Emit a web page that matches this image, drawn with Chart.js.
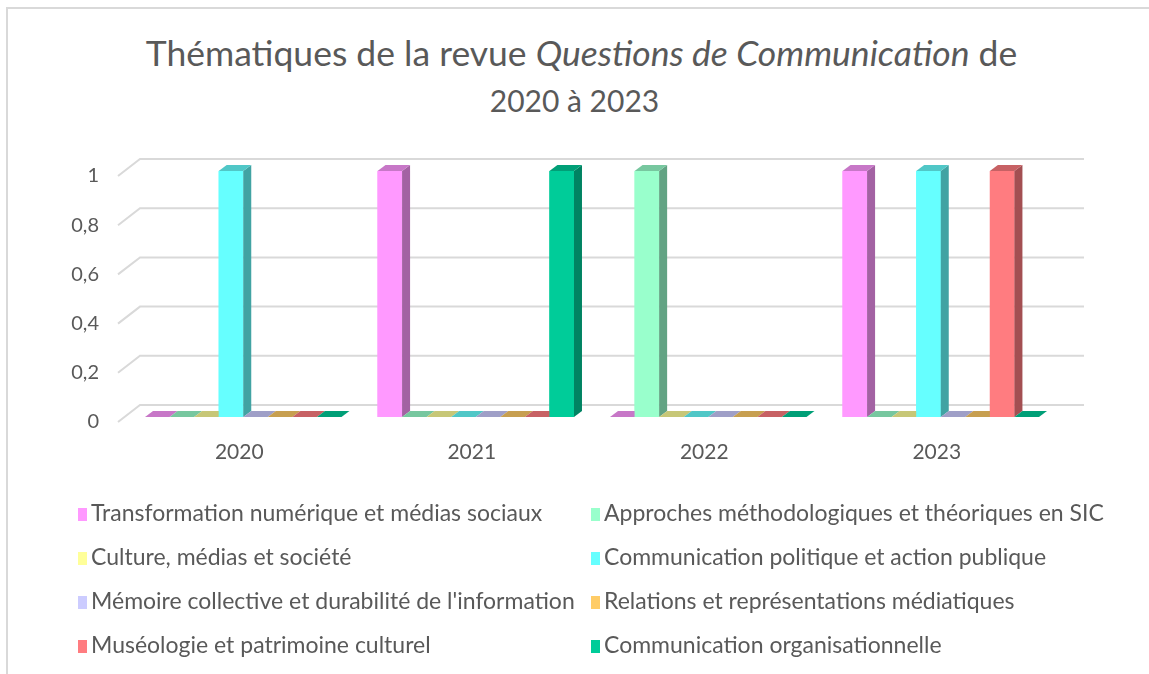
<!DOCTYPE html>
<html>
<head>
<meta charset="utf-8">
<script src="https://cdn.jsdelivr.net/npm/chart.js@4"></script>
<style>
body { margin: 0; background: #fff; font-family: Lato, sans-serif; color: #595959; }
#wrap { position: relative; width: 1149px; height: 674px; overflow: hidden; }
#frame { position: absolute; left: 6px; top: 7px; width: 1200px; height: 700px; border-left: 2px solid #d9d9d9; border-top: 2px solid #d9d9d9; }
.tline { position: absolute; left: 0; width: 1149px; text-align: center; line-height: 40px; white-space: nowrap; }
#t1 { top: 33px; left: 7px; font-size: 35.5px; }
#t2 { top: 80px; font-size: 30px; }
canvas { position: absolute; left: 0; top: 0; }
.item { position: absolute; font-size: 23px; line-height: 26px; white-space: nowrap; }
.box { display: inline-block; width: 9px; height: 13px; margin-right: 4px; vertical-align: 0px; }
</style>
</head>
<body>
<div id="wrap">
  <div id="frame"></div>
  <div class="tline" id="t1">Thématiques de la revue <i>Questions de Communication</i> de</div>
  <div class="tline" id="t2">2020 à 2023</div>
  <canvas id="chart" width="1149" height="674"></canvas>
  <div id="legend"></div>
</div>
<script>
var categories = ["2020", "2021", "2022", "2023"];
var seriesNames = [
    "Transformation numérique et médias sociaux",
    "Approches méthodologiques et théoriques en SIC",
    "Culture, médias et société",
    "Communication politique et action publique",
    "Mémoire collective et durabilité de l'information",
    "Relations et représentations médiatiques",
    "Muséologie et patrimoine culturel",
    "Communication organisationnelle"
];
var transformation = [0, 1, 0, 1];
var approches = [0, 0, 1, 0];
var culture = [0, 0, 0, 0];
var politique = [1, 0, 0, 1];
var memoire = [0, 0, 0, 0];
var relations = [0, 0, 0, 0];
var museologie = [0, 0, 0, 1];
var organisationnelle = [0, 1, 0, 0];
var seriesValues = [transformation, approches, culture, politique, memoire, relations, museologie, organisationnelle];
var seriesColors = ["#FF99FF", "#99FFCC", "#FFFF99", "#66FFFF", "#CCCCFF", "#FFCC66", "#FF7C80", "#00CC99"];
var yMin = 0, yMax = 1, yStep = 0.2;

var textColor = "#595959";
var depthX = 8, depthY = 6;

function shade(hex, f) {
    var n = parseInt(hex.slice(1), 16);
    var r = Math.round(((n >> 16) & 255) * f);
    var g = Math.round(((n >> 8) & 255) * f);
    var b = Math.round((n & 255) * f);
    return "rgb(" + r + "," + g + "," + b + ")";
}

function poly(ctx, pts, color) {
    ctx.beginPath();
    ctx.moveTo(pts[0][0], pts[0][1]);
    for (var i = 1; i < pts.length; i++) ctx.lineTo(pts[i][0], pts[i][1]);
    ctx.closePath();
    ctx.fillStyle = color;
    ctx.fill();
}

// 3D look: back wall gridlines + top/side faces of the columns
var bars3d = {
    id: "bars3d",
    beforeDatasetsDraw: function (chart) {
        var ctx = chart.ctx;
        var area = chart.chartArea;
        var y = chart.scales.y;
        ctx.save();
        ctx.strokeStyle = "#d9d9d9";
        ctx.lineWidth = 2;
        y.ticks.forEach(function (t) {
            var p = y.getPixelForValue(t.value);
            ctx.beginPath();
            ctx.moveTo(area.left - 9, p + 5);
            ctx.lineTo(area.left + 13, p - 12);
            ctx.lineTo(area.right + 27, p - 12);
            ctx.stroke();
        });
        ctx.restore();
    },
    afterDatasetsDraw: function (chart) {
        var ctx = chart.ctx;
        var bars = [];
        chart.data.datasets.forEach(function (ds, i) {
            chart.getDatasetMeta(i).data.forEach(function (el) {
                bars.push({ el: el, color: seriesColors[i] });
            });
        });
        bars.sort(function (a, b) { return a.el.x - b.el.x; });
        ctx.save();
        bars.forEach(function (b) {
            var el = b.el;
            var l = el.x - el.width / 2, r = el.x + el.width / 2;
            var top = Math.min(el.y, el.base), base = Math.max(el.y, el.base);
            if (base - top > 0.5) {
                poly(ctx, [[l, top], [r, top], [r, base], [l, base]], b.color);
                poly(ctx, [[r, top], [r, base], [r + depthX, base - depthY], [r + depthX, top - depthY]], shade(b.color, 0.64));
            }
            poly(ctx, [[l, top], [r, top], [r + depthX, top - depthY], [l + depthX, top - depthY]], shade(b.color, 0.78));
        });
        ctx.restore();
    }
};

var datasets = seriesNames.map(function (name, i) {
    return {
        label: name,
        data: seriesValues[i],
        backgroundColor: seriesColors[i],
        borderWidth: 0
    };
});

new Chart(document.getElementById("chart"), {
    type: "bar",
    data: { labels: categories, datasets: datasets },
    plugins: [bars3d],
    options: {
        responsive: false,
        animation: false,
        layout: { padding: { top: 171, right: 92, bottom: 207, left: 0 } },
        datasets: { bar: { categoryPercentage: 0.845, barPercentage: 1 } },
        plugins: {
            legend: { display: false },
            title: { display: false },
            tooltip: { enabled: false }
        },
        scales: {
            x: {
                grid: { display: false, drawTicks: false },
                border: { display: false },
                ticks: { color: textColor, font: { family: "Lato", size: 21 }, padding: 23, labelOffset: -4 },
                afterFit: function (s) { s.height = 50; }
            },
            y: {
                min: yMin,
                max: yMax,
                grid: { display: false, drawTicks: false },
                border: { display: false },
                ticks: {
                    stepSize: yStep,
                    padding: 28,
                    labelOffset: 5,
                    color: textColor,
                    font: { family: "Lato", size: 20 },
                    callback: function (v) { return String(Math.round(v * 10) / 10).replace(".", ","); }
                },
                afterFit: function (s) { s.width = 127; }
            }
        }
    }
});

// legend in two columns
var legend = document.getElementById("legend");
var colX = [78, 591];
var rowY = [512, 556, 600, 644];
for (var i = 0; i < seriesNames.length; i++) {
    var item = document.createElement("div");
    item.className = "item";
    item.style.left = colX[i % 2] + "px";
    item.style.top = (rowY[Math.floor(i / 2)] - 13) + "px";
    var box = document.createElement("span");
    box.className = "box";
    box.style.background = seriesColors[i];
    item.appendChild(box);
    item.appendChild(document.createTextNode(seriesNames[i]));
    legend.appendChild(item);
}
</script>
</body>
</html>
